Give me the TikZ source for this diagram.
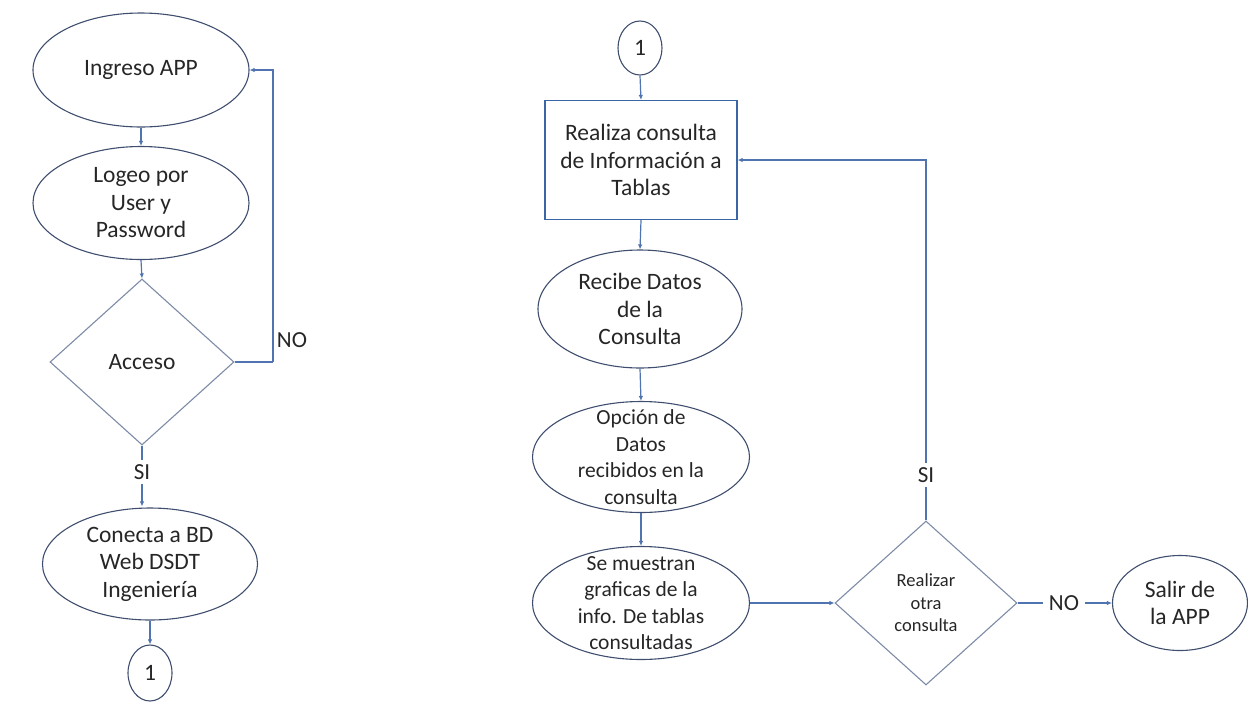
\documentclass[tikz,border=0pt]{standalone}
\usepackage{fontspec}
\setmainfont{Carlito}
\usetikzlibrary{shapes.geometric,arrows.meta}
\definecolor{conn}{HTML}{4F74B0}
\definecolor{ellc}{HTML}{3F4E6E}
\definecolor{boxc}{HTML}{3B66A6}
\definecolor{diac}{HTML}{7D8BA6}
\definecolor{txt}{HTML}{262626}
\tikzset{
  every label/.style={text=txt,align=center,font=\fontsize{23.5}{27.5}\selectfont,inner sep=0pt},
  ell/.style={ellipse,draw=ellc,line width=1.1pt,inner sep=0pt},
  rectbox/.style={rectangle,draw=boxc,line width=1.2pt,inner sep=0pt},
  dia/.style={diamond,draw=diac,line width=1.1pt,inner sep=0pt},
  conn/.style={draw=conn,line width=1.2pt},
  arr/.style={conn,-{Latex[length=5pt,width=4.5pt]}},
  lbl/.style={text=txt,font=\fontsize{23}{27}\selectfont,inner xsep=6pt,inner ysep=4pt},
  small/.style={font=\fontsize{21.5}{26.5}\selectfont},
}
\begin{document}
\begin{tikzpicture}[x=1pt,y=-1pt]
\useasboundingbox (0,0) rectangle (1248,705);
% left column
\node[ell,minimum width=216,minimum height=114,label={center:Ingreso APP}] (ingreso) at (141,70) {};
\node[ell,minimum width=216,minimum height=113,label={center:Logeo por\\User y\\Password}] (logeo) at (141,203) {};
\node[dia,minimum width=184,minimum height=166,label={center:Acceso}] (acceso) at (142,362) {};
\node[lbl] (si1) at (142,472) {SI};
\node[lbl] (no1) at (292,340) {NO};
\node[ell,minimum width=215,minimum height=112,label={center:Conecta a BD\\Web DSDT\\Ingeniería}] (conecta) at (150,564) {};
\node[ell,minimum width=44,minimum height=56,label={center:1}] (c1a) at (150,673) {};
\coordinate (loopL) at (273,362);
% right column
\node[ell,minimum width=44,minimum height=54,label={center:1}] (c1b) at (640,48) {};
\node[rectbox,minimum width=192,minimum height=119,label={center:Realiza consulta\\de Información a\\Tablas}] (box) at (641,160) {};
\node[ell,minimum width=204,minimum height=118,label={center:Recibe Datos\\de la\\Consulta}] (recibe) at (640,309) {};
\node[ell,minimum width=217,minimum height=111,label={[small]center:Opción de\\Datos\\recibidos en la\\consulta}] (opcion) at (641,457) {};
\node[ell,minimum width=217,minimum height=113,label={[small]center:Se muestran\\graficas de la\\info. De tablas\\consultadas}] (muestran) at (641,603) {};
\node[dia,minimum width=182,minimum height=164,label={[font=\fontsize{18.5}{22.5}\selectfont]center:Realizar\\otra\\consulta}] (realizar) at (926,603) {};
\node[lbl] (si2) at (926,475) {SI};
\node[lbl] (no2) at (1064,603) {NO};
\node[ell,minimum width=135,minimum height=95,label={center:Salir de\\la APP}] (salir) at (1180,603) {};
% connectors left
\draw[arr] (ingreso.south) -- (logeo.north);
\draw[arr] (logeo.south) -- (acceso.north);
\draw[conn] (acceso.east) -- (loopL);
\draw[arr] (loopL) |- (ingreso.east);
\draw[conn] (acceso.south) -- (si1.north);
\draw[arr] (si1.south) -- ([yshift=1pt]si1.south |- conecta.north);
\draw[arr] (conecta.south) -- (c1a.north);
% connectors right
\draw[arr] (c1b.south) -- (box.north);
\draw[arr] (box.south) -- (recibe.north);
\draw[arr] (recibe.south) -- (opcion.north);
\draw[arr] (opcion.south) -- (muestran.north);
\draw[arr] (muestran.east) -- (realizar.west);
\draw[conn] (realizar.north) -- (si2.south);
\draw[arr] (si2.north) |- (box.east);
\draw[conn] (realizar.east) -- (no2.west);
\draw[arr] (no2.east) -- (salir.west);
\end{tikzpicture}
\end{document}
